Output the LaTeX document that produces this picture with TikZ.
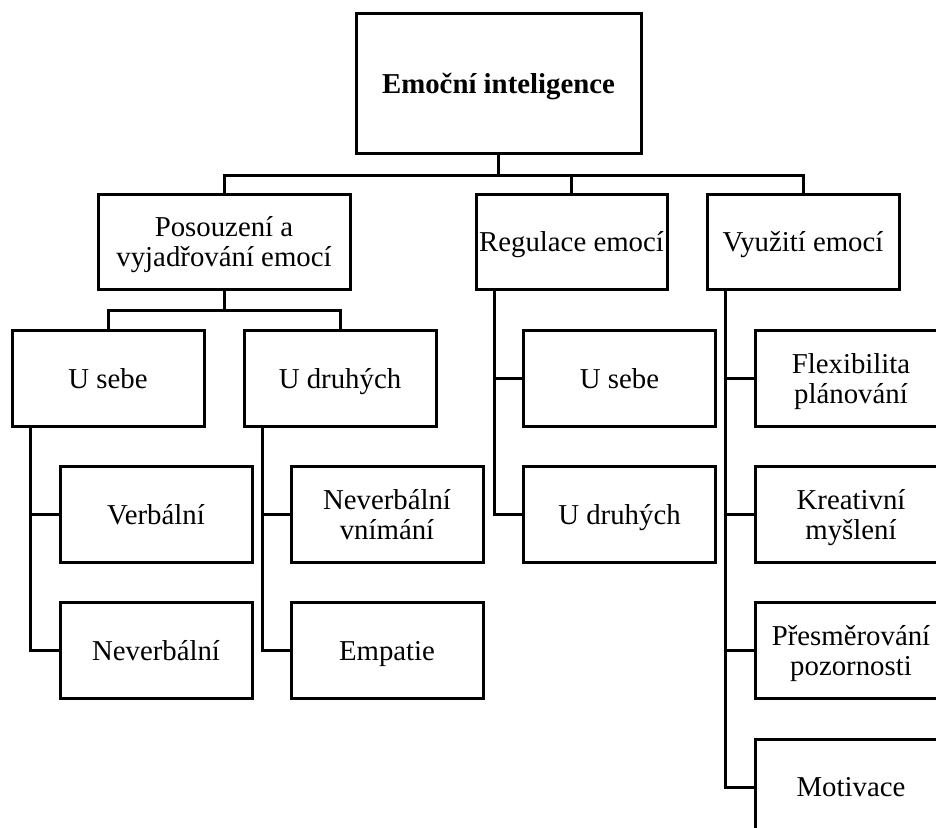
\documentclass[tikz,border=0pt]{standalone}
\usepackage{fontspec}
\setmainfont{Liberation Serif}

\begin{document}
\begin{tikzpicture}[x=0.5pt, y=-0.5pt, line width=1.5pt]
    \tikzset{Box/.style = {draw, rectangle, align=center, inner sep=1pt,
        minimum width=96pt, minimum height=48pt, font=\fontsize{14.4}{15}\selectfont,
        text depth=0pt}}
    \useasboundingbox (0,0) rectangle (936,827);
    \clip (0,0) rectangle (936,827);

    % Vertices
    \node[Box, minimum width=142.5pt, minimum height=70pt, font=\fontsize{14.4}{15}\selectfont\bfseries] (EI) at (498.5,83) {Emoční inteligence};

    \node[Box, minimum width=126pt, minimum height=47.5pt] (PV) at (224,241.5) {Posouzení a\\vyjadřování emocí};
    \node[Box, minimum width=95.5pt, minimum height=47.5pt] (RE) at (571.5,241.5) {Regulace emocí};
    \node[Box, minimum height=47.5pt] (VE) at (803,241.5) {Využití emocí};

    \node[Box] (PVs) at (108,378) {U sebe};
    \node[Box] (PVd) at (340,378) {U druhých};
    \node[Box] (PVsv) at (156,514) {Verbální};
    \node[Box] (PVsn) at (156,650.5) {Neverbální};
    \node[Box] (PVdn) at (387,514) {Neverbální\\vnímání};
    \node[Box] (PVde) at (387,650.5) {Empatie};

    \node[Box] (REs) at (619.5,378) {U sebe};
    \node[Box] (REd) at (619.5,514) {U druhých};

    \node[Box] (VEf) at (851,378) {Flexibilita\\plánování};
    \node[Box] (VEk) at (851,514) {Kreativní\\myšlení};
    \node[Box] (VEp) at (851,650.5) {Přesměrování\\pozornosti};
    \node[Box] (VEm) at (851,787) {Motivace};

    % Edges
    \foreach \y in {PV,RE,VE} \draw (EI.south) -- ++(0,21) -| (\y.north);
    \foreach \y in {PVs,PVd} \draw (PV.south) -- ++(0,20) -| (\y.north);
    \foreach \x/\y in {PVs/PVsv,PVs/PVsn,PVd/PVdn,PVd/PVde,RE/REs,RE/REd,VE/VEf,VE/VEk,VE/VEp,VE/VEm}
        \draw ([xshift=10pt]\x.south west) |- (\y.west);
\end{tikzpicture}
\end{document}
